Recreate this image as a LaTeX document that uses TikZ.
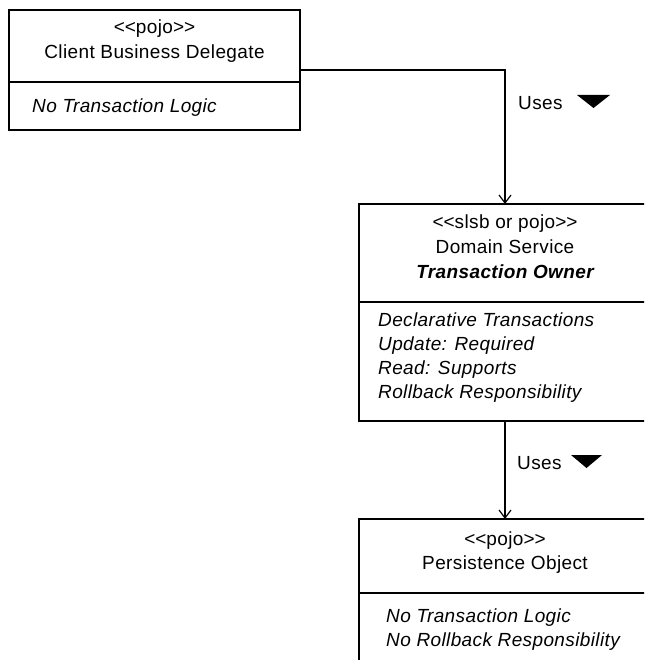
\documentclass[tikz,border=0pt]{standalone}
\usepackage{fontspec}
\setmainfont{Liberation Sans}[LetterSpace=2]
\usetikzlibrary{arrows.meta}

% angle brackets kept as separate glyphs (no guillemet mapping)
\newcommand{\lguil}{\mbox{<}\mbox{<}}
\newcommand{\rguil}{\mbox{>}\mbox{>}}

\begin{document}
\begin{tikzpicture}[x=1pt, y=-1pt,
  classbox/.style={draw=black, line width=1.2pt, rectangle, anchor=north west,
                   inner sep=0pt, outer sep=0pt, minimum width=292pt},
  divider/.style={draw=black, line width=1.2pt},
  txt/.style={inner sep=0pt, font=\fontsize{19}{23}\selectfont, text=black},
  stereo/.style={txt, anchor=base},
  attr/.style={txt, anchor=base west, font=\fontsize{19}{23}\selectfont\itshape},
  conn/.style={draw=black, line width=1.2pt, -{Straight Barb[length=8pt, width=12pt, line width=1.2pt]}},
  dirmark/.style={fill=black}
]
\useasboundingbox (0,0) rectangle (644,660);
\clip (0,0) rectangle (644,660);

% Client Business Delegate
\node[classbox, minimum width=291pt, minimum height=120pt] (cbd) at (9,10) {};
\draw[divider] (cbd.west |- 0,82) coordinate (cbdl) -- (cbd.east |- 0,82) coordinate (cbdr);
\node[stereo] (cbds) at (154.5,34) {\lguil pojo\rguil};
\node[stereo] (cbdn) at (154.5,59) {Client Business Delegate};
\node[attr] (cbda) at (32,113) {No Transaction Logic};

% Domain Service
\node[classbox, minimum height=217pt] (ds) at (359,204) {};
\draw[divider] (ds.west |- 0,302) coordinate (dsl) -- (ds.east |- 0,302) coordinate (dsr);
\node[stereo] (dss) at (505,228) {\lguil slsb or pojo\rguil};
\node[stereo] (dsn) at (505,253) {Domain Service};
\node[stereo, font=\fontsize{19}{23}\selectfont\bfseries\itshape] (dso) at (505,278) {Transaction Owner};
\node[attr] (dsa1) at (378,326) {Declarative Transactions};
\node[attr] (dsa2) at (378,350) {Update: Required};
\node[attr] (dsa3) at (378,374) {Read: Supports};
\node[attr] (dsa4) at (378,398) {Rollback Responsibility};

% Persistence Object
\node[classbox, minimum height=200pt] (po) at (359,519) {};
\draw[divider] (po.west |- 0,593) coordinate (pol) -- (po.east |- 0,593) coordinate (por);
\node[stereo] (pos) at (505,545) {\lguil pojo\rguil};
\node[stereo] (pon) at (505,569) {Persistence Object};
\node[attr] (poa1) at (386,622) {No Transaction Logic};
\node[attr] (poa2) at (386,646) {No Rollback Responsibility};

% Dependencies
\draw[conn] (cbd.east) -| (ds.north);
\node[txt, anchor=base west] (uses1) at (518,110) {Uses};
\fill[dirmark] (577,95) -- (610,95) -- (593.5,108) -- cycle;

\draw[conn] (ds.south) -- (po.north);
\node[txt, anchor=base west] (uses2) at (517,469) {Uses};
\fill[dirmark] (571,455) -- (602,455) -- (586.5,468) -- cycle;
\end{tikzpicture}
\end{document}
